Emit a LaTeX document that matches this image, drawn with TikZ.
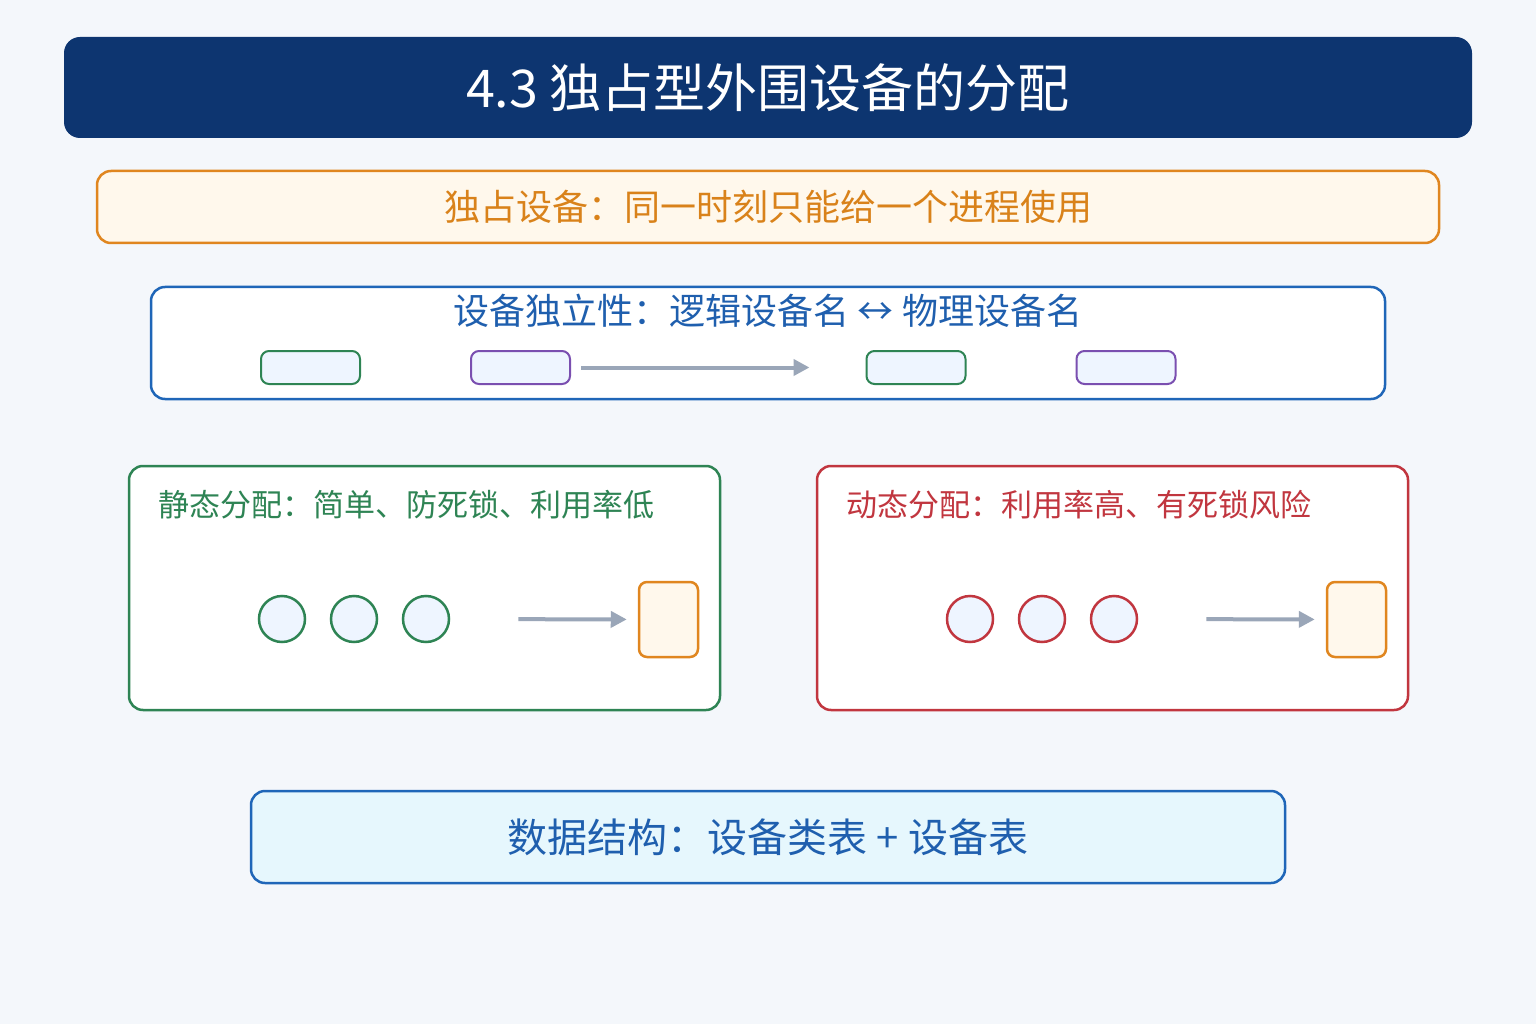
\documentclass[tikz,border=0pt]{standalone}
\usepackage{fontspec}
\newfontfamily\cjk{Noto Sans CJK SC}
\usepackage{tikz}
\usetikzlibrary{arrows.meta,positioning}
\definecolor{pagebg}{HTML}{F4F7FB}
\definecolor{navy}{HTML}{0D3570}
\definecolor{orangeline}{HTML}{E0861F}
\definecolor{orangetext}{HTML}{D9821A}
\definecolor{orangefill}{HTML}{FFF8EC}
\definecolor{blueline}{HTML}{1F66B8}
\definecolor{bluetext}{HTML}{1F5FAE}
\definecolor{greenline}{HTML}{2E8454}
\definecolor{purpleline}{HTML}{7A4FB0}
\definecolor{redline}{HTML}{C1363F}
\definecolor{arrowgray}{HTML}{9AA6B8}
\definecolor{lightfill}{HTML}{EEF5FF}
\definecolor{cyanfill}{HTML}{E6F7FD}
\tikzset{
    %Define standard arrow tip
    >={Triangle[length=16pt,width=16pt]},
    %Define style for big boxes
    panel/.style={
           rectangle,
           rounded corners=14pt,
           line width=2.5pt,
           inner sep=0pt},
    %Define style for small device boxes
    devbox/.style={
           rectangle,
           rounded corners=8pt,
           draw, line width=2pt,
           fill=lightfill,
           minimum width=99pt,
           minimum height=33pt,
           inner sep=0pt},
    proc/.style={
           circle,
           draw, line width=2.5pt,
           fill=lightfill,
           minimum size=46pt,
           inner sep=0pt},
    slot/.style={
           rectangle,
           rounded corners=8pt,
           draw=orangeline, line width=2.5pt,
           fill=orangefill,
           minimum width=59pt,
           minimum height=75pt,
           inner sep=0pt},
    % Define arrow style
    pil/.style={
           ->,
           draw=arrowgray,
           line width=4pt}
}
\begin{document}
\begin{tikzpicture}[x=1pt,y=-1pt,font=\cjk,node distance=23.5pt]
\fill[pagebg] (0,0) rectangle (1536,1024);

 %title
\node[panel, fill=navy, rounded corners=16pt, minimum width=1408pt, minimum height=101pt] (title) at (768,87.5) {};
\node[text=white, font=\cjk\fontsize{52}{56}\selectfont] (titletext) at (768,88) {4.3 独占型外围设备的分配};

 %exclusive device
\node[panel, draw=orangeline, fill=orangefill, minimum width=1342pt, minimum height=72pt, text=orangetext, font=\cjk\fontsize{36}{40}\selectfont] (excl) at (768,207) {独占设备：同一时刻只能给一个进程使用};

 %device independence
\node[panel, draw=blueline, fill=white, minimum width=1234pt, minimum height=112pt] (indep) at (768,343) {};
\node[text=bluetext, font=\cjk\fontsize{36}{40}\selectfont] (indeptext) at (768,311) {设备独立性：逻辑设备名 ↔ 物理设备名};
\node[devbox, draw=greenline] (lg1) at (310.5,367.5) {};
\node[devbox, draw=purpleline, right=109pt of lg1] (lp1) {};
\node[devbox, draw=greenline] (pg1) at (916,367.5) {};
\node[devbox, draw=purpleline, right=109pt of pg1] (pp1) {};
\draw[pil, shorten <=10pt, shorten >=56pt] (lp1) -- (pg1);

 %static allocation
\node[panel, draw=greenline, fill=white, minimum width=591pt, minimum height=244pt] (static) at (424.5,588) {};
\node[anchor=west, text=greenline, font=\cjk\fontsize{31}{36}\selectfont] (statictext) at (155,505) {静态分配：简单、防死锁、利用率低};
\node[proc, draw=greenline] (s1) at (282,619) {};
\node[proc, draw=greenline, right=of s1] (s2) {};
\node[proc, draw=greenline, right=of s2] (s3) {};
\node[slot] (sdev) at (668.5,619.5) {};
\draw[pil, shorten <=68pt, shorten >=11pt] (s3) -- (sdev);

 %dynamic allocation
\node[panel, draw=redline, fill=white, minimum width=591pt, minimum height=244pt] (dynamic) at (1112.5,588) {};
\node[anchor=west, text=redline, font=\cjk\fontsize{31}{36}\selectfont] (dynamictext) at (843,505) {动态分配：利用率高、有死锁风险};
\node[proc, draw=redline] (d1) at (970,619) {};
\node[proc, draw=redline, right=of d1] (d2) {};
\node[proc, draw=redline, right=of d2] (d3) {};
\node[slot] (ddev) at (1356.5,619.5) {};
\draw[pil, shorten <=68pt, shorten >=11pt] (d3) -- (ddev);

 %data structures
\node[panel, draw=blueline, fill=cyanfill, minimum width=1034pt, minimum height=92pt, text=bluetext, font=\cjk\fontsize{40}{44}\selectfont] (tables) at (768,837) {数据结构：设备类表 + 设备表};
\end{tikzpicture}
\end{document}
